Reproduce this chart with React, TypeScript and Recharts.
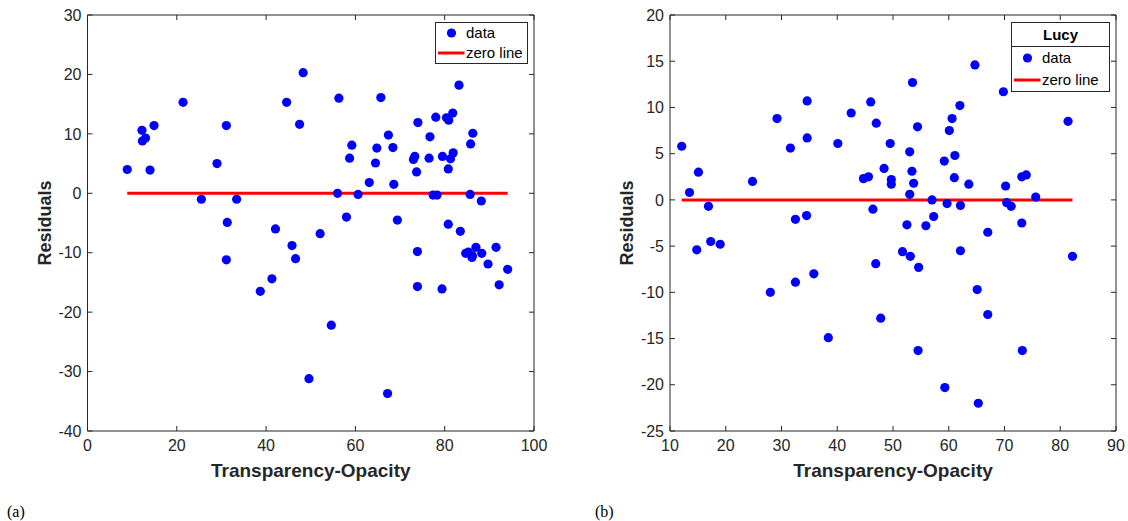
import {
  ScatterChart,
  Scatter,
  XAxis,
  YAxis,
  Legend,
} from "recharts";

// panel (a)
const leftX = [
  8.9, 12.2, 12.3, 13.0, 14.9, 14.0, 21.4, 25.5, 29.0, 31.1, 33.4, 31.3, 31.1, 38.7, 41.3,
  42.1, 44.6, 45.8, 46.6, 47.5, 48.3, 49.6, 52.1, 54.6, 56.0, 56.3, 58.0, 58.7, 59.2, 60.6,
  63.1, 64.5, 64.8, 65.7, 67.2, 67.4, 68.4, 68.6, 69.4, 73.0, 73.3, 73.7, 74.0, 73.9, 73.9,
  76.5, 76.7, 77.4, 78.3, 78.0, 79.4, 79.5, 80.4, 80.9, 80.8, 80.8, 81.3, 81.8, 81.9, 83.2,
  83.5, 84.7, 85.3, 85.7, 85.8, 86.2, 86.1, 86.3, 87.0, 88.2, 88.3, 89.7, 91.5, 92.2, 94.1,
];
const leftY = [
  4.0, 10.6, 8.8, 9.3, 11.4, 3.9, 15.3, -1.0, 5.0, 11.4, -1.0, -4.9, -11.2, -16.5, -14.4,
  -6.0, 15.3, -8.8, -11.0, 11.6, 20.3, -31.2, -6.8, -22.2, 0.0, 16.0, -4.0, 5.9, 8.1, -0.2,
  1.8, 5.1, 7.6, 16.1, -33.7, 9.8, 7.7, 1.5, -4.5, 5.7, 6.2, 3.6, 11.9, -9.8, -15.7,
  5.9, 9.5, -0.3, -0.3, 12.8, -16.1, 6.2, 12.7, 12.3, 4.1, -5.2, 5.8, 13.5, 6.8, 18.2,
  -6.4, -10.1, -9.9, -0.2, 8.3, -10.5, -10.8, 10.1, -9.1, -1.3, -10.1, -11.9, -9.1, -15.4, -12.8,
];
const leftZeroX = [8.9, 94.1];
const leftXTicks = [0, 20, 40, 60, 80, 100];
const leftYTicks = [-40, -30, -20, -10, 0, 10, 20, 30];

// panel (b)
const rightX = [
  12.1, 13.5, 15.1, 14.8, 16.9, 17.3, 19.0, 24.8, 28.0, 29.2, 31.6, 32.5, 32.5, 34.6, 34.6,
  34.5, 35.8, 38.4, 40.1, 42.5, 44.7, 45.6, 46.0, 46.4, 46.9, 47.0, 47.8, 48.4, 49.5, 49.7,
  49.7, 51.7, 52.5, 53.0, 53.0, 53.1, 53.4, 53.5, 53.7, 54.4, 54.6, 54.5, 55.9, 57.0, 57.3,
  59.2, 59.3, 59.7, 60.1, 60.6, 61.0, 61.1, 62.0, 62.1, 62.1, 63.6, 64.7, 65.1, 65.3, 67.0,
  67.0, 69.8, 70.2, 70.4, 71.2, 73.1, 73.9, 73.1, 73.2, 75.6, 81.4, 82.2,
];
const rightY = [
  5.8, 0.8, 3.0, -5.4, -0.7, -4.5, -4.8, 2.0, -10.0, 8.8, 5.6, -2.1, -8.9, 10.7, 6.7,
  -1.7, -8.0, -14.9, 6.1, 9.4, 2.3, 2.5, 10.6, -1.0, -6.9, 8.3, -12.8, 3.4, 6.1, 2.2,
  1.7, -5.6, -2.7, 5.2, 0.6, -6.1, 3.1, 12.7, 1.8, 7.9, -7.3, -16.3, -2.8, 0.0, -1.8,
  4.2, -20.3, -0.4, 7.5, 8.8, 2.4, 4.8, 10.2, -0.6, -5.5, 1.7, 14.6, -9.7, -22.0, -3.5,
  -12.4, 11.7, 1.5, -0.3, -0.7, 2.5, 2.7, -2.5, -16.3, 0.3, 8.5, -6.1,
];
const rightZeroX = [12.1, 82.2];
const rightXTicks = [10, 20, 30, 40, 50, 60, 70, 80, 90];
const rightYTicks = [-25, -20, -15, -10, -5, 0, 5, 10, 15, 20];

const FONT = "'Liberation Sans', Arial, Helvetica, sans-serif";
const AXIS = "#262626";
const TICK_LEN = 5;
const GAP_X = 9; // bottom labels below axis
const GAP_Y = 6; // left labels beside axis

const zip = (xs: number[], ys: number[]) => xs.map((x, i) => ({ x, y: ys[i] }));

const Dot = (p: any) => <circle cx={p.cx} cy={p.cy} r={4.6} fill="#0000ff" />;
const NoDot = () => <g />;

// MATLAB style: tick marks point into the box
const BottomTick = (p: any) => {
  const axisY = p.y - GAP_X;
  return (
    <g>
      <line x1={p.x} x2={p.x} y1={axisY} y2={axisY - TICK_LEN} stroke={AXIS} />
      <text x={p.x} y={p.y} dy="0.71em" textAnchor="middle" fill={AXIS} fontSize={16} fontFamily={FONT}>
        {p.payload.value}
      </text>
    </g>
  );
};
const LeftTick = (p: any) => {
  const axisX = p.x + GAP_Y;
  return (
    <g>
      <line x1={axisX} x2={axisX + TICK_LEN} y1={p.y} y2={p.y} stroke={AXIS} />
      <text x={p.x} y={p.y} dy="0.355em" textAnchor="end" fill={AXIS} fontSize={16} fontFamily={FONT}>
        {p.payload.value}
      </text>
    </g>
  );
};
const TopTick = (p: any) => (
  <line x1={p.x} x2={p.x} y1={p.y} y2={p.y + TICK_LEN} stroke={AXIS} />
);
const RightTick = (p: any) => (
  <line x1={p.x} x2={p.x - TICK_LEN} y1={p.y} y2={p.y} stroke={AXIS} />
);

function LegendBox({ title }: { title?: string }) {
  const rowH = title ? 22 : 20;
  const row = { display: "flex", alignItems: "center", height: rowH } as const;
  return (
    <div
      style={{
        border: `1px solid ${AXIS}`,
        background: "#fff",
        boxSizing: "border-box",
        fontFamily: FONT,
        fontSize: 15,
        color: "#000",
        lineHeight: `${rowH}px`,
        height: "100%",
      }}
    >
      {title && (
        <div
          style={{
            textAlign: "center",
            fontWeight: "bold",
            height: 23,
            lineHeight: "24px",
            borderBottom: `1px solid ${AXIS}`,
          }}
        >
          {title}
        </div>
      )}
      <div style={row}>
        <svg width={30} height={rowH}>
          <circle cx={15.5} cy={rowH / 2} r={4.6} fill="#0000ff" />
        </svg>
        <span>data</span>
      </div>
      <div style={row}>
        <svg width={30} height={rowH}>
          <line x1={2} x2={28.5} y1={rowH / 2} y2={rowH / 2} stroke="#ff0000" strokeWidth={3} />
        </svg>
        <span>zero line</span>
      </div>
    </div>
  );
}

type PanelProps = {
  width: number;
  yAxisWidth: number;
  xs: number[];
  ys: number[];
  zeroX: number[];
  xTicks: number[];
  yTicks: number[];
  legendLeft: number;
  legendWidth: number;
  legendHeight: number;
  title?: string;
  rightMargin: number;
};

function Panel(props: PanelProps) {
  const {
    width, yAxisWidth, xs, ys, zeroX, xTicks, yTicks,
    legendLeft, legendWidth, legendHeight, title, rightMargin,
  } = props;
  const xDomain = [xTicks[0], xTicks[xTicks.length - 1]];
  const yDomain = [yTicks[0], yTicks[yTicks.length - 1]];
  const labelStyle = { fill: AXIS, fontWeight: "bold", fontFamily: FONT };
  return (
    <ScatterChart
      width={width}
      height={521}
      margin={{ top: 14, right: rightMargin, left: 0, bottom: 30 }}
    >
      <XAxis
        type="number"
        dataKey="x"
        domain={xDomain}
        ticks={xTicks}
        allowDataOverflow
        height={60}
        stroke={AXIS}
        tickLine={false}
        tickSize={0}
        tickMargin={GAP_X}
        tick={BottomTick}
        label={{
          value: "Transparency-Opacity",
          position: "insideBottom",
          offset: 14,
          style: { ...labelStyle, fontSize: 19 },
        }}
      />
      {/* box top edge; 1px tall so it actually renders */}
      <XAxis
        xAxisId="top"
        orientation="top"
        type="number"
        dataKey="x"
        domain={xDomain}
        ticks={xTicks}
        allowDataOverflow
        height={1}
        stroke={AXIS}
        tickLine={false}
        tickSize={0}
        tickMargin={0}
        tick={TopTick}
      />
      <YAxis
        type="number"
        dataKey="y"
        domain={yDomain}
        ticks={yTicks}
        allowDataOverflow
        width={yAxisWidth}
        stroke={AXIS}
        tickLine={false}
        tickSize={0}
        tickMargin={GAP_Y}
        tick={LeftTick}
        label={{
          value: "Residuals",
          angle: -90,
          position: "center",
          dx: 1,
          style: { ...labelStyle, fontSize: 18 },
        }}
      />
      <YAxis
        yAxisId="right"
        orientation="right"
        type="number"
        dataKey="y"
        domain={yDomain}
        ticks={yTicks}
        allowDataOverflow
        width={1}
        stroke={AXIS}
        tickLine={false}
        tickSize={0}
        tickMargin={0}
        tick={RightTick}
      />
      {/* zero line lives on the top/right axes (same domains) so those get drawn too */}
      <Scatter
        name="zero line"
        xAxisId="top"
        yAxisId="right"
        data={zeroX.map((x) => ({ x, y: 0 }))}
        line={{ stroke: "#ff0000", strokeWidth: 3 }}
        shape={NoDot}
        isAnimationActive={false}
      />
      <Scatter
        name="data"
        data={zip(xs, ys)}
        fill="#0000ff"
        shape={Dot}
        isAnimationActive={false}
      />
      <Legend
        layout="horizontal"
        verticalAlign="middle"
        align="center"
        width={legendWidth}
        height={legendHeight}
        wrapperStyle={{ left: legendLeft, top: 22 }}
        content={() => <LegendBox title={title} />}
      />
    </ScatterChart>
  );
}

export default function App() {
  const caption = {
    position: "absolute",
    top: 503,
    fontFamily: "'Liberation Serif', 'Times New Roman', serif",
    fontSize: 16,
    lineHeight: "18px",
    color: "#000",
  } as const;
  return (
    <div style={{ position: "absolute", left: 0, top: 0, width: 1128, height: 521, background: "#fff" }}>
      <div style={{ position: "absolute", left: 0, top: 0 }}>
        <Panel
          width={560}
          yAxisWidth={87.5}
          xs={leftX}
          ys={leftY}
          zeroX={leftZeroX}
          xTicks={leftXTicks}
          yTicks={leftYTicks}
          legendLeft={435}
          legendWidth={93}
          legendHeight={42}
          rightMargin={25}
        />
      </div>
      <div style={{ position: "absolute", left: 582, top: 0 }}>
        <Panel
          width={546}
          yAxisWidth={88}
          xs={rightX}
          ys={rightY}
          zeroX={rightZeroX}
          xTicks={rightXTicks}
          yTicks={rightYTicks}
          legendLeft={429}
          legendWidth={99}
          legendHeight={70}
          title="Lucy"
          rightMargin={11}
        />
      </div>
      <div style={{ ...caption, left: 7 }}>(a)</div>
      <div style={{ ...caption, left: 595 }}>(b)</div>
    </div>
  );
}
